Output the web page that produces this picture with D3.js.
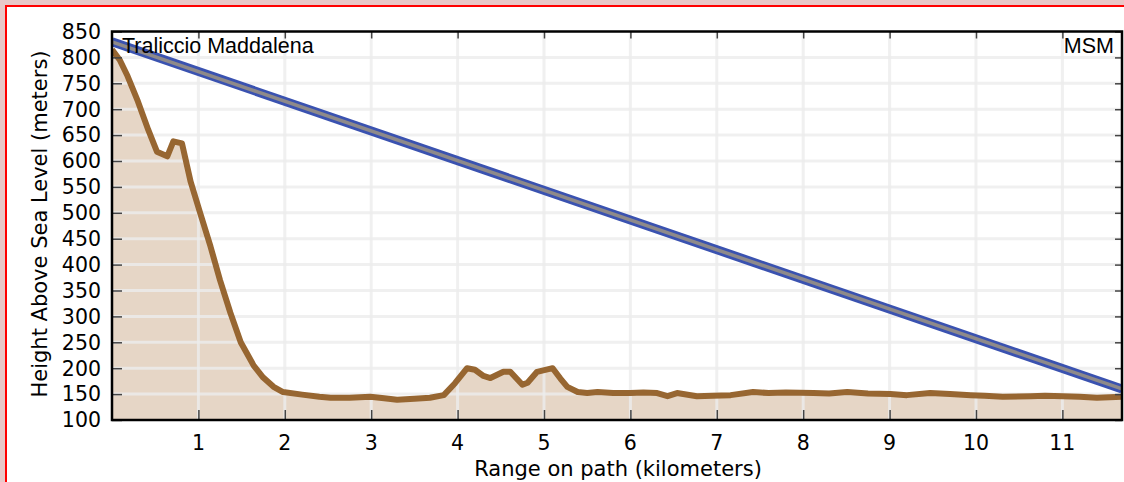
<!DOCTYPE html>
<html>
<head>
<meta charset="utf-8">
<script src="https://cdn.jsdelivr.net/npm/d3@7"></script>
<style>
  html, body { margin: 0; padding: 0; background: #e8c8c8; }
  svg { display: block; }
</style>
</head>
<body>
<svg id="chart" width="1124" height="482"></svg>
<script>
// ---- data ----
const distanceKm = [0, 0.09, 0.18, 0.3, 0.42, 0.52, 0.64, 0.71, 0.81, 0.91, 1.02, 1.14, 1.25, 1.37, 1.49, 1.64, 1.75, 1.87, 1.98,
  2.2, 2.4, 2.53, 2.75, 2.99, 3.15, 3.3, 3.5, 3.68, 3.84, 3.97, 4.11, 4.2, 4.3, 4.38, 4.53, 4.61, 4.75, 4.81, 4.92, 5.1, 5.19,
  5.27, 5.39, 5.5, 5.62, 5.8, 6.0, 6.15, 6.31, 6.43, 6.54, 6.77, 6.95, 7.16, 7.42, 7.6, 7.8, 8.12, 8.3, 8.51, 8.75, 9.01, 9.2,
  9.47, 9.7, 9.94, 10.1, 10.31, 10.63, 10.8, 11.01, 11.2, 11.4, 11.69];
const terrainM = [815, 795, 764, 715, 660, 618, 609, 638, 634, 560, 500, 435, 370, 307, 250, 205, 182, 164, 154,
  149, 145, 143, 143, 145, 142, 139, 141, 143, 148, 171, 200, 197, 185, 181, 193, 193, 168, 172, 193, 200, 180,
  164, 154, 152, 154, 152, 152, 153, 152, 146, 152, 146, 147, 148, 154, 152, 153, 152, 151, 154, 151, 150, 148,
  152, 150, 148, 147, 145, 146, 147, 146, 145, 143, 145];
const losKm = [0, 11.69];
const losM = [830, 160];
const xTicks = [1, 2, 3, 4, 5, 6, 7, 8, 9, 10, 11];
const yTicks = [100, 150, 200, 250, 300, 350, 400, 450, 500, 550, 600, 650, 700, 750, 800, 850];
const startLabel = "Traliccio Maddalena";
const endLabel = "MSM";

// ---- layout ----
const svg = d3.select("#chart");
const W = 1124, H = 482;
const L = 112, R = 1122, T = 31.5, B = 420;

// page frame
svg.append("rect").attr("x", 0).attr("y", 0).attr("width", W).attr("height", H).attr("fill", "#e8c8c8");
svg.append("rect").attr("x", 6).attr("y", 6).attr("width", 1300).attr("height", 700)
  .attr("fill", "#ffffff").attr("stroke", "#ff0000").attr("stroke-width", 2);

const x = d3.scaleLinear().domain([0, 11.69]).range([L, R]);
const y = d3.scaleLinear().domain([100, 850]).range([B, T]);

const terrain = distanceKm.map((d, i) => [d, terrainM[i]]);
const los = losKm.map((d, i) => [d, losM[i]]);

svg.append("defs").append("clipPath").attr("id", "clip")
  .append("rect").attr("x", L).attr("y", T).attr("width", R - L).attr("height", B - T);

const plot = svg.append("g").attr("clip-path", "url(#clip)");

// terrain fill
plot.append("path")
  .datum(terrain)
  .attr("fill", "#e6d6c6")
  .attr("d", d3.area().x(d => x(d[0])).y0(y(100)).y1(d => y(d[1])));

// gridlines
plot.append("g").selectAll("line").data(yTicks.filter(v => v > 100 && v < 850)).join("line")
  .attr("x1", L).attr("x2", R).attr("y1", d => y(d)).attr("y2", d => y(d))
  .attr("stroke", "#ececec").attr("stroke-opacity", 0.8).attr("stroke-width", 3);
plot.append("g").selectAll("line").data(xTicks).join("line")
  .attr("x1", d => x(d)).attr("x2", d => x(d)).attr("y1", T).attr("y2", B)
  .attr("stroke", "#ececec").attr("stroke-opacity", 0.8).attr("stroke-width", 3);

// line of sight
const lineGen = d3.line().x(d => x(d[0])).y(d => y(d[1]));
plot.append("path").datum(los).attr("fill", "none").attr("stroke", "#3a52b0").attr("stroke-width", 9).attr("d", lineGen);
plot.append("path").datum(los).attr("fill", "none").attr("stroke", "#8e8a8a").attr("stroke-width", 3.5).attr("d", lineGen);

// terrain line
plot.append("path").datum(terrain).attr("fill", "none")
  .attr("stroke", "#976631").attr("stroke-width", 6).attr("stroke-linejoin", "round")
  .attr("d", lineGen);

// axes (inward ticks)
const tickColor = "#444";
const axL = svg.append("g").attr("transform", `translate(${L},0)`)
  .call(d3.axisRight(y).tickValues(yTicks).tickSize(10).tickFormat(""));
const axB = svg.append("g").attr("transform", `translate(0,${B})`)
  .call(d3.axisTop(x).tickValues(xTicks).tickSize(10).tickFormat(""));
const axT = svg.append("g").attr("transform", `translate(0,${T})`)
  .call(d3.axisBottom(x).tickValues(xTicks).tickSize(7).tickFormat(""));
const axR = svg.append("g").attr("transform", `translate(${R},0)`)
  .call(d3.axisLeft(y).tickValues(yTicks).tickSize(7).tickFormat(""));
[axL, axB, axT, axR].forEach(a => {
  a.select(".domain").remove();
  a.selectAll(".tick line").attr("stroke", tickColor).attr("stroke-width", 1.5);
});

// frame
svg.append("rect").attr("x", L).attr("y", T).attr("width", R - L).attr("height", B - T)
  .attr("fill", "none").attr("stroke", "#000").attr("stroke-width", 2.5);

// tick labels
const font = "DejaVu Sans, sans-serif";
svg.append("g").selectAll("text").data(yTicks).join("text")
  .attr("x", 101).attr("y", d => y(d)).attr("dy", "0.36em")
  .attr("text-anchor", "end").attr("font-family", font).attr("font-size", 20.5).attr("fill", "#000")
  .text(d => d);
svg.append("g").selectAll("text").data(xTicks).join("text")
  .attr("x", d => x(d)).attr("y", 450)
  .attr("text-anchor", "middle").attr("font-family", font).attr("font-size", 20.5).attr("fill", "#000")
  .text(d => d);

// axis titles
svg.append("text").attr("x", 618).attr("y", 476).attr("text-anchor", "middle")
  .attr("font-family", font).attr("font-size", 21).attr("fill", "#000")
  .text("Range on path (kilometers)");
svg.append("text").attr("transform", "translate(47,224) rotate(-90)").attr("text-anchor", "middle")
  .attr("font-family", font).attr("font-size", 21).attr("fill", "#000")
  .text("Height Above Sea Level (meters)");

// endpoint labels
svg.append("text").attr("x", 122).attr("y", 53).attr("font-family", "Liberation Sans, Arial, sans-serif")
  .attr("font-size", 21.5).attr("fill", "#000").text(startLabel);
svg.append("text").attr("x", 1114).attr("y", 53).attr("text-anchor", "end")
  .attr("font-family", "Liberation Sans, Arial, sans-serif")
  .attr("font-size", 21.5).attr("fill", "#000").text(endLabel);
</script>
</body>
</html>
